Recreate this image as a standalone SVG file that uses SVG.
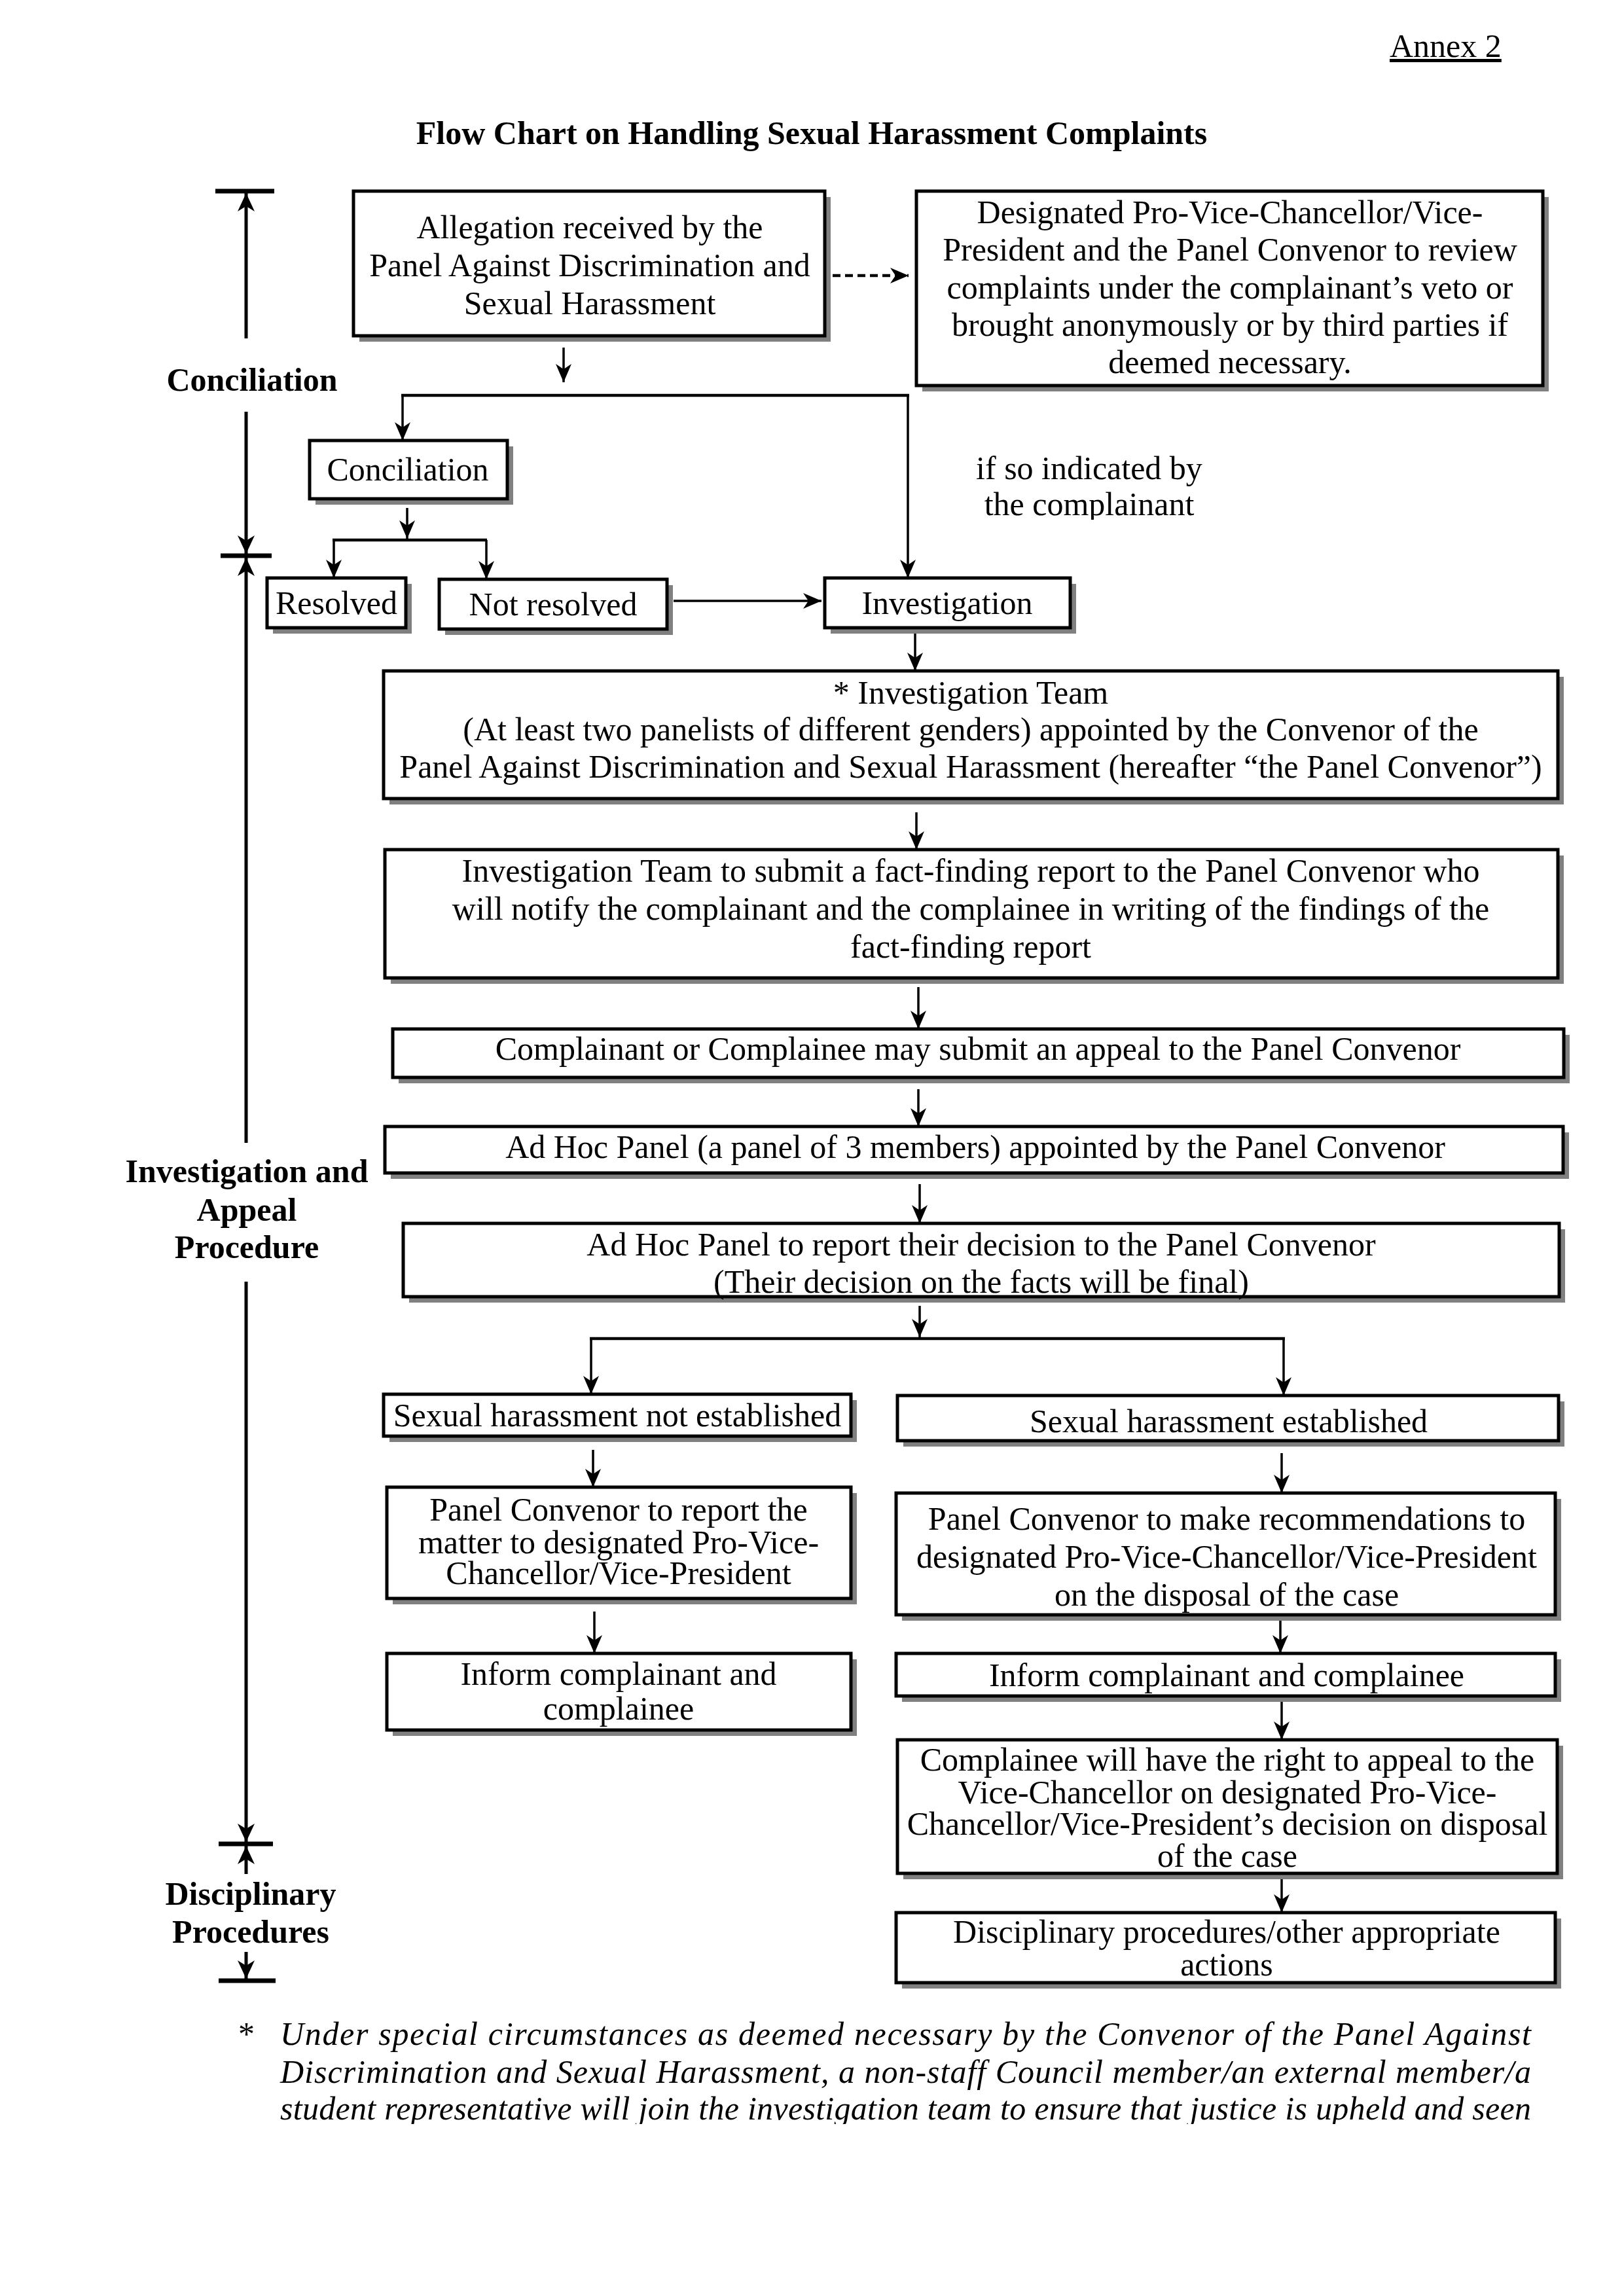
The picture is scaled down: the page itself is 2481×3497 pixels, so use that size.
<svg xmlns="http://www.w3.org/2000/svg" width="2481" height="3497" viewBox="0 0 2481 3497">
<style>
  .sh { fill: #808080; stroke: none; }
  .bx { fill: #ffffff; stroke: #000000; stroke-width: 5; }
  text { font-family: "Liberation Serif", "Times New Roman", serif; font-size: 50px; fill: #000; }
  .c { text-anchor: middle; }
  .b { font-weight: bold; }
  .it { font-style: italic; }
  .ln { stroke: #000; stroke-width: 3.5; fill: none; }
  .ln4 { stroke: #000; stroke-width: 4.5; fill: none; }
  .ax { stroke: #000; stroke-width: 5; fill: none; }
  .bar { stroke: #000; stroke-width: 7; fill: none; }
</style>
<defs>
  <marker id="ah" viewBox="0 0 28 24" refX="28" refY="12" markerWidth="28" markerHeight="24" markerUnits="userSpaceOnUse" orient="auto">
    <path d="M0,0 L28,12 L0,24 L8,12 z" fill="#000"/>
  </marker>
  <marker id="ahb" viewBox="0 0 28 26" refX="28" refY="13" markerWidth="28" markerHeight="26" markerUnits="userSpaceOnUse" orient="auto">
    <path d="M0,0 L28,13 L0,26 L8,13 z" fill="#000"/>
  </marker>
  <clipPath id="cl1"><rect x="0" y="0" width="2481" height="794"/></clipPath>
  <clipPath id="cl2"><rect x="0" y="0" width="2481" height="3245"/></clipPath>
</defs>
<rect x="0" y="0" width="2481" height="3497" fill="#ffffff"/>

<text x="2123" y="87" text-decoration="underline">Annex 2</text>
<text class="b c" x="1240" y="220">Flow Chart on Handling Sexual Harassment Complaints</text>

<g id="phases">
  <text class="b c" x="385" y="597">Conciliation</text>
  <text class="b c" x="377" y="1806">Investigation and</text>
  <text class="b c" x="377" y="1865">Appeal</text>
  <text class="b c" x="377" y="1922">Procedure</text>
  <text class="b c" x="383" y="2910">Disciplinary</text>
  <text class="b c" x="383" y="2968">Procedures</text>
  <line class="bar" x1="329" y1="292" x2="419" y2="292"/>
  <line class="bar" x1="337" y1="849" x2="415" y2="849"/>
  <line class="bar" x1="334" y1="2817" x2="417" y2="2817"/>
  <line class="bar" x1="334" y1="3026" x2="421" y2="3026"/>
  <line class="ax" x1="376" y1="517" x2="376" y2="295" marker-end="url(#ahb)"/>
  <line class="ax" x1="376" y1="629" x2="376" y2="846" marker-end="url(#ahb)"/>
  <line class="ax" x1="376" y1="1746" x2="376" y2="852" marker-end="url(#ahb)"/>
  <line class="ax" x1="376" y1="1958" x2="376" y2="2814" marker-end="url(#ahb)"/>
  <line class="ax" x1="376" y1="2863" x2="376" y2="2820" marker-end="url(#ahb)"/>
  <line class="ax" x1="376" y1="2982" x2="376" y2="3023" marker-end="url(#ahb)"/>
</g>

<g id="connectors">
  <line class="ln4" x1="1272" y1="421" x2="1388" y2="421" stroke-dasharray="12 7" marker-end="url(#ah)"/>
  <line class="ln" x1="861" y1="531" x2="861" y2="584" marker-end="url(#ah)"/>
  <line class="ln4" x1="613" y1="604" x2="1389" y2="604"/>
  <line class="ln" x1="615" y1="604" x2="615" y2="673" marker-end="url(#ah)"/>
  <line class="ln" x1="1387" y1="604" x2="1387" y2="883" marker-end="url(#ah)"/>
  <line class="ln" x1="622" y1="776" x2="622" y2="823" marker-end="url(#ah)"/>
  <line class="ln4" x1="508" y1="825" x2="744" y2="825"/>
  <line class="ln" x1="510" y1="825" x2="510" y2="883" marker-end="url(#ah)"/>
  <line class="ln" x1="743" y1="825" x2="743" y2="885" marker-end="url(#ah)"/>
  <line class="ln" x1="1029" y1="918" x2="1255" y2="918" stroke-width="5" marker-end="url(#ah)"/>
  <line class="ln" x1="1398" y1="964" x2="1398" y2="1025" marker-end="url(#ah)"/>
  <line class="ln" x1="1400" y1="1241" x2="1400" y2="1298" marker-end="url(#ah)"/>
  <line class="ln" x1="1403" y1="1508" x2="1403" y2="1572" marker-end="url(#ah)"/>
  <line class="ln" x1="1403" y1="1664" x2="1403" y2="1721" marker-end="url(#ah)"/>
  <line class="ln" x1="1405" y1="1809" x2="1405" y2="1869" marker-end="url(#ah)"/>
  <line class="ln" x1="1405" y1="1995" x2="1405" y2="2043" marker-end="url(#ah)"/>
  <line class="ln4" x1="901" y1="2045" x2="1963" y2="2045"/>
  <line class="ln" x1="903" y1="2045" x2="903" y2="2130" marker-end="url(#ah)"/>
  <line class="ln" x1="1961" y1="2045" x2="1961" y2="2132" marker-end="url(#ah)"/>
  <line class="ln" x1="906" y1="2215" x2="906" y2="2272" marker-end="url(#ah)"/>
  <line class="ln" x1="1958" y1="2220" x2="1958" y2="2281" marker-end="url(#ah)"/>
  <line class="ln" x1="908" y1="2462" x2="908" y2="2526" marker-end="url(#ah)"/>
  <line class="ln" x1="1956" y1="2472" x2="1956" y2="2526" marker-end="url(#ah)"/>
  <line class="ln" x1="1958" y1="2595" x2="1958" y2="2658" marker-end="url(#ah)"/>
  <line class="ln" x1="1958" y1="2865" x2="1958" y2="2922" marker-end="url(#ah)"/>
</g>

<g id="n-allegation">
  <rect class="sh" x="549" y="301" width="720" height="221"/>
  <rect class="bx" x="540" y="292" width="720" height="221"/>
  <text class="c" x="901"><tspan x="901" y="364">Allegation received by the</tspan><tspan x="901" y="422">Panel Against Discrimination and</tspan><tspan x="901" y="480">Sexual Harassment</tspan></text>
</g>

<g id="n-designated">
  <rect class="sh" x="1409" y="301" width="957" height="297"/>
  <rect class="bx" x="1400" y="292" width="957" height="297"/>
  <text class="c" x="1879"><tspan x="1879" y="341">Designated Pro-Vice-Chancellor/Vice-</tspan><tspan x="1879" y="398">President and the Panel Convenor to review</tspan><tspan x="1879" y="456">complaints under the complainant’s veto or</tspan><tspan x="1879" y="513">brought anonymously or by third parties if</tspan><tspan x="1879" y="570">deemed necessary.</tspan></text>
</g>

<g id="n-ifso" clip-path="url(#cl1)">
  <text class="c" x="1664"><tspan x="1664" y="732">if so indicated by</tspan><tspan x="1664" y="787">the complainant</tspan></text>
</g>

<g id="n-conciliation">
  <rect class="sh" x="482" y="682" width="302" height="89"/>
  <rect class="bx" x="473" y="673" width="302" height="89"/>
  <text class="c" x="623" y="734">Conciliation</text>
</g>

<g id="n-resolved">
  <rect class="sh" x="417" y="892" width="212" height="76"/>
  <rect class="bx" x="408" y="883" width="212" height="76"/>
  <text class="c" x="514" y="938">Resolved</text>
</g>

<g id="n-notresolved">
  <rect class="sh" x="680" y="894" width="348" height="76"/>
  <rect class="bx" x="671" y="885" width="348" height="76"/>
  <text class="c" x="845" y="940">Not resolved</text>
</g>

<g id="n-investigation">
  <rect class="sh" x="1269" y="892" width="375" height="76"/>
  <rect class="bx" x="1260" y="883" width="375" height="76"/>
  <text class="c" x="1447" y="938">Investigation</text>
</g>

<g id="n-team">
  <rect class="sh" x="595" y="1034" width="1794" height="195"/>
  <rect class="bx" x="586" y="1025" width="1794" height="195"/>
  <text class="c" x="1483"><tspan x="1483" y="1075">* Investigation Team</tspan><tspan x="1483" y="1131">(At least two panelists of different genders) appointed by the Convenor of the</tspan><tspan x="1483" y="1188">Panel Against Discrimination and Sexual Harassment (hereafter “the Panel Convenor”)</tspan></text>
</g>

<g id="n-report">
  <rect class="sh" x="597" y="1307" width="1792" height="196"/>
  <rect class="bx" x="588" y="1298" width="1792" height="196"/>
  <text class="c" x="1483"><tspan x="1483" y="1347">Investigation Team to submit a fact-finding report to the Panel Convenor who</tspan><tspan x="1483" y="1405">will notify the complainant and the complainee in writing of the findings of the</tspan><tspan x="1483" y="1463">fact-finding report</tspan></text>
</g>

<g id="n-appeal">
  <rect class="sh" x="609" y="1581" width="1789" height="74"/>
  <rect class="bx" x="600" y="1572" width="1789" height="74"/>
  <text class="c" x="1494" y="1619">Complainant or Complainee may submit an appeal to the Panel Convenor</text>
</g>

<g id="n-adhoc">
  <rect class="sh" x="597" y="1730" width="1800" height="71"/>
  <rect class="bx" x="588" y="1721" width="1800" height="71"/>
  <text class="c" x="1490" y="1769">Ad Hoc Panel (a panel of 3 members) appointed by the Panel Convenor</text>
</g>

<g id="n-decision">
  <rect class="sh" x="625" y="1878" width="1766" height="112"/>
  <rect class="bx" x="616" y="1869" width="1766" height="112"/>
  <text class="c" x="1499"><tspan x="1499" y="1918">Ad Hoc Panel to report their decision to the Panel Convenor</tspan><tspan x="1499" y="1975">(Their decision on the facts will be final)</tspan></text>
</g>

<g id="n-notest">
  <rect class="sh" x="595" y="2139" width="714" height="64"/>
  <rect class="bx" x="586" y="2130" width="714" height="64"/>
  <text class="c" x="943" y="2179">Sexual harassment not established</text>
</g>

<g id="n-est">
  <rect class="sh" x="1380" y="2141" width="1010" height="69"/>
  <rect class="bx" x="1371" y="2132" width="1010" height="69"/>
  <text class="c" x="1877" y="2188">Sexual harassment established</text>
</g>

<g id="n-pcreport">
  <rect class="sh" x="600" y="2281" width="709" height="170"/>
  <rect class="bx" x="591" y="2272" width="709" height="170"/>
  <text class="c" x="945"><tspan x="945" y="2323">Panel Convenor to report the</tspan><tspan x="945" y="2373">matter to designated Pro-Vice-</tspan><tspan x="945" y="2420">Chancellor/Vice-President</tspan></text>
</g>

<g id="n-pcrec">
  <rect class="sh" x="1378" y="2290" width="1007" height="186"/>
  <rect class="bx" x="1369" y="2281" width="1007" height="186"/>
  <text class="c" x="1874"><tspan x="1874" y="2337">Panel Convenor to make recommendations to</tspan><tspan x="1874" y="2395">designated Pro-Vice-Chancellor/Vice-President</tspan><tspan x="1874" y="2453">on the disposal of the case</tspan></text>
</g>

<g id="n-informl">
  <rect class="sh" x="600" y="2535" width="709" height="117"/>
  <rect class="bx" x="591" y="2526" width="709" height="117"/>
  <text class="c" x="945"><tspan x="945" y="2574">Inform complainant and</tspan><tspan x="945" y="2627">complainee</tspan></text>
</g>

<g id="n-informr">
  <rect class="sh" x="1378" y="2535" width="1007" height="65"/>
  <rect class="bx" x="1369" y="2526" width="1007" height="65"/>
  <text class="c" x="1874" y="2576">Inform complainant and complainee</text>
</g>

<g id="n-right">
  <rect class="sh" x="1380" y="2667" width="1008" height="204"/>
  <rect class="bx" x="1371" y="2658" width="1008" height="204"/>
  <text class="c" x="1875"><tspan x="1875" y="2705">Complainee will have the right to appeal to the</tspan><tspan x="1875" y="2755">Vice-Chancellor on designated Pro-Vice-</tspan><tspan x="1875" y="2803">Chancellor/Vice-President’s decision on disposal</tspan><tspan x="1875" y="2852">of the case</tspan></text>
</g>

<g id="n-disc">
  <rect class="sh" x="1378" y="2931" width="1007" height="107"/>
  <rect class="bx" x="1369" y="2922" width="1007" height="107"/>
  <text class="c" x="1874"><tspan x="1874" y="2968">Disciplinary procedures/other appropriate</tspan><tspan x="1874" y="3018">actions</tspan></text>
</g>

<g id="footnote" clip-path="url(#cl2)">
  <text x="364" y="3124">*</text>
  <text class="it" x="428" y="3124" textLength="1911" lengthAdjust="spacing">Under special circumstances as deemed necessary by the Convenor of the Panel Against</text>
  <text class="it" x="428" y="3182" textLength="1911" lengthAdjust="spacing">Discrimination and Sexual Harassment, a non-staff Council member/an external member/a</text>
  <text class="it" x="428" y="3238" textLength="1911" lengthAdjust="spacing">student representative will join the investigation team to ensure that justice is upheld and seen</text>
</g>
</svg>
